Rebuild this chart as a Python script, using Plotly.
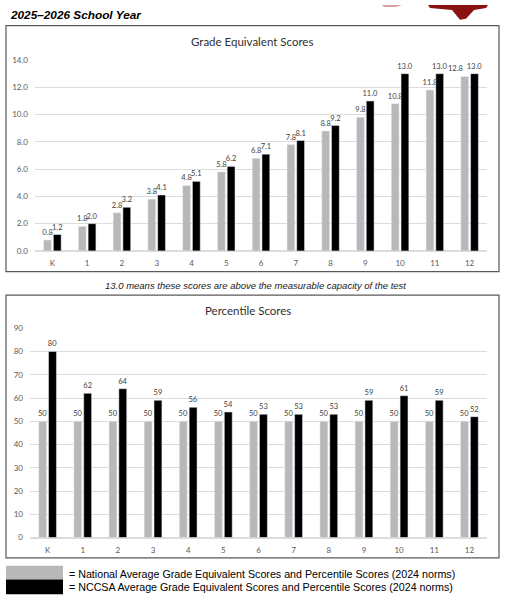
import plotly.graph_objects as go

W, H = 507, 610

grades = ["K", "1", "2", "3", "4", "5", "6", "7", "8", "9", "10", "11", "12"]
national_ge = [0.8, 1.8, 2.8, 3.8, 4.8, 5.8, 6.8, 7.8, 8.8, 9.8, 10.8, 11.8, 12.8]
nccsa_ge = [1.2, 2.0, 3.2, 4.1, 5.1, 6.2, 7.1, 8.1, 9.2, 11.0, 13.0, 13.0, 13.0]
national_pct = [50, 50, 50, 50, 50, 50, 50, 50, 50, 50, 50, 50, 50]
nccsa_pct = [80, 62, 64, 59, 56, 54, 53, 53, 53, 59, 61, 59, 52]

GRAY = "#b8b8b8"
BLACK = "#000000"
LABEL_FONT = dict(family="Lato, Open Sans, sans-serif", size=7.5, color="#404040")


def px(x):
    return x / W


def py(y):
    return 1 - y / H


# labels of the grey bars in the top chart; the last one is nudged left (see annotations),
# like Excel does when it collides with its neighbour
nat_ge_text = [f"{v:.1f}" for v in national_ge]
nat_ge_text[-1] = ""

fig = go.Figure()

# Grade equivalent chart (top)
fig.add_trace(go.Bar(x=grades, y=national_ge, marker_color=GRAY, text=nat_ge_text,
                     textposition="outside", cliponaxis=False, textfont=LABEL_FONT,
                     xaxis="x", yaxis="y", showlegend=False))
fig.add_trace(go.Bar(x=grades, y=nccsa_ge, marker_color=BLACK, text=[f"{v:.1f}" for v in nccsa_ge],
                     textposition="outside", cliponaxis=False, textfont=LABEL_FONT,
                     xaxis="x", yaxis="y", showlegend=False))

# Percentile chart (bottom)
fig.add_trace(go.Bar(x=grades, y=national_pct, marker_color=GRAY, text=[str(v) for v in national_pct],
                     textposition="outside", cliponaxis=False, textfont=LABEL_FONT,
                     xaxis="x2", yaxis="y2", showlegend=False))
fig.add_trace(go.Bar(x=grades, y=nccsa_pct, marker_color=BLACK, text=[str(v) for v in nccsa_pct],
                     textposition="outside", cliponaxis=False, textfont=LABEL_FONT,
                     xaxis="x2", yaxis="y2", showlegend=False))

tick_font = dict(family="Lato, Open Sans, sans-serif", size=8, color="#595959")
xcommon = dict(type="category", showgrid=False, showline=False, ticks="", tickfont=tick_font,
               ticklabelstandoff=6, fixedrange=True)
ycommon = dict(showgrid=True, gridcolor="#dcdcdc", gridwidth=1, zeroline=True, zerolinecolor="#dcdcdc",
               showline=False, ticks="", tickfont=tick_font, ticklabelstandoff=6, fixedrange=True)

fig.update_layout(
    width=W, height=H,
    margin=dict(l=0, r=0, t=0, b=0),
    paper_bgcolor="white", plot_bgcolor="white",
    barmode="group", bargap=0.44, bargroupgap=0.2,
    uniformtext=dict(minsize=7, mode="show"),
    xaxis=dict(domain=[px(35), px(487)], anchor="y", **xcommon),
    yaxis=dict(domain=[py(250), py(56)], anchor="x", range=[0, 14], dtick=2, tickformat=".1f", **ycommon),
    xaxis2=dict(domain=[px(30), px(487)], anchor="y2", **xcommon),
    yaxis2=dict(domain=[py(541.5), py(328.6)], anchor="x2", range=[0, 90], dtick=10, **ycommon),
)

shapes = [
    # chart frames
    dict(type="rect", xref="paper", yref="paper", x0=px(6), x1=px(499), y0=py(271), y1=py(21),
         line=dict(color="#595959", width=1.2), fillcolor="rgba(0,0,0,0)", layer="below"),
    dict(type="rect", xref="paper", yref="paper", x0=px(6), x1=px(499), y0=py(562), y1=py(295),
         line=dict(color="#595959", width=1.2), fillcolor="rgba(0,0,0,0)", layer="below"),
    # legend swatches
    dict(type="rect", xref="paper", yref="paper", x0=px(6), x1=px(63), y0=py(584), y1=py(570),
         line=dict(width=0), fillcolor=GRAY),
    dict(type="rect", xref="paper", yref="paper", x0=px(6), x1=px(63), y0=py(599), y1=py(584),
         line=dict(width=0), fillcolor=BLACK),
    # logo fragment at the top right
    dict(type="path", xref="paper", yref="paper",
         path=f"M {px(428)} {py(0)} L {px(488)} {py(0)} L {px(486)} {py(3)} L {px(474)} {py(5)} "
              f"L {px(466)} {py(14)} L {px(460)} {py(15)} L {px(452)} {py(5)} L {px(430)} {py(3)} Z",
         line=dict(width=0), fillcolor="#8b1010"),
    dict(type="path", xref="paper", yref="paper",
         path=f"M {px(382)} {py(0)} L {px(402)} {py(0)} L {px(396)} {py(2)} L {px(384)} {py(2)} Z",
         line=dict(width=0), fillcolor="#d9a0a0"),
]
fig.update_layout(shapes=shapes)

body = "Liberation Sans, Arial, sans-serif"
annotations = [
    dict(text="<b><i>2025–2026 School Year</i></b>", x=px(8), y=py(10), xanchor="left", yanchor="middle",
         font=dict(family=body, size=11.8, color="black")),
    dict(text="Grade Equivalent Scores", x=px(252), y=py(37), xanchor="center", yanchor="middle",
         font=dict(family="Lato, Open Sans, sans-serif", size=11.5, color="#303030")),
    dict(text="Percentile Scores", x=px(248), y=py(311), xanchor="center", yanchor="middle",
         font=dict(family="Lato, Open Sans, sans-serif", size=11.5, color="#303030")),
    dict(text="<i>13.0 means these scores are above the measurable capacity of the test</i>",
         x=px(255), y=py(285), xanchor="center", yanchor="middle",
         font=dict(family=body, size=9.5, color="#202020")),
    dict(text="= National Average Grade Equivalent Scores and Percentile Scores (2024 norms)",
         x=px(67), y=py(578), xanchor="left", yanchor="middle",
         font=dict(family=body, size=10.7, color="black")),
    dict(text="= NCCSA Average Grade Equivalent Scores and Percentile Scores (2024 norms)",
         x=px(67), y=py(592), xanchor="left", yanchor="middle",
         font=dict(family=body, size=10.7, color="black")),
]
for a in annotations:
    a.update(xref="paper", yref="paper", showarrow=False)

# nudged label of the last grey bar, placed on the data axes
annotations.append(dict(text=f"{national_ge[-1]:.1f}", x=grades[-1], y=national_ge[-1], xref="x", yref="y",
                        xanchor="center", yanchor="bottom", xshift=-14, yshift=1, showarrow=False,
                        font=LABEL_FONT))
fig.update_layout(annotations=annotations)

# drop the browser's default page margin so the figure sits at the window corner
fig.write_html("out.html", config={"displayModeBar": False},
               post_script="document.body.style.margin='0';")
